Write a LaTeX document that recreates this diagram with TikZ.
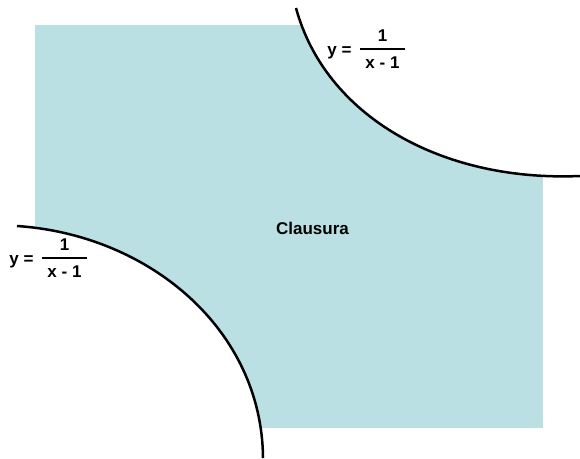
\documentclass[tikz,border=0pt]{standalone}
\usepackage{fontspec}
\setmainfont{Liberation Sans}
\usetikzlibrary{positioning}
\definecolor{clausurafill}{RGB}{187,224,227}
\setlength{\arrayrulewidth}{2.5pt}

\begin{document}
\begin{tikzpicture}[
  x=1pt, y=-1pt,
  region/.style={fill=clausurafill, draw=none},
  blank/.style={fill=white, draw=none},
  curve/.style={draw=black, line width=2.5pt},
  eqtext/.style={font=\fontsize{17}{20}\selectfont\bfseries, inner sep=0pt, align=center}
]
  \useasboundingbox (0,0) rectangle (580,458);

  % Region
  \fill[region] (35,25) rectangle (543,428);

  % Cut-away corners
  \coordinate (upA) at (296,8);
  \coordinate (upB) at (580,176);
  \coordinate (loA) at (17,226);
  \coordinate (loB) at (263,458);
  \fill[blank] (upA) .. controls (325,115) and (440,182) .. (upB) -- (580,0) -- (290,0) -- cycle;
  \fill[blank] (loA) .. controls (150,235) and (262,330) .. (loB) -- (0,458) -- (0,226) -- cycle;

  % Curves
  \draw[curve] (upA) .. controls (325,115) and (440,182) .. (upB);
  \draw[curve] (loA) .. controls (150,235) and (262,330) .. (loB);

  % Labels
  \node[eqtext] (clausura) at (312.5,228.5) {Clausura};

  \node[eqtext] (fracU) at (382.5,51) {\begin{tabular}{@{\hspace{5.5pt}}c@{\hspace{5.5pt}}}1\\\hline\rule{0pt}{18pt}x - 1\end{tabular}};
  \node[eqtext, left=8pt of fracU, yshift=-2pt] (yeqU) {y =};

  \node[eqtext] (fracL) at (64.5,260) {\begin{tabular}{@{\hspace{5.5pt}}c@{\hspace{5.5pt}}}1\\\hline\rule{0pt}{18pt}x - 1\end{tabular}};
  \node[eqtext, left=8pt of fracL, yshift=-2pt] (yeqL) {y =};
\end{tikzpicture}
\end{document}
